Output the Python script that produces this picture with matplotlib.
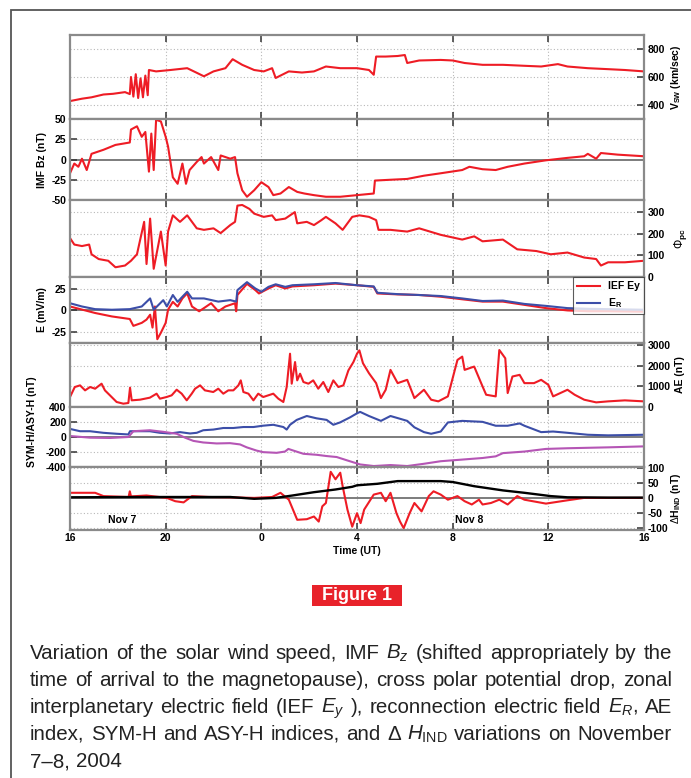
import matplotlib
matplotlib.use('Agg')
import matplotlib.pyplot as plt
from matplotlib import font_manager
from matplotlib.patches import Rectangle

# hours after 16 UT on Nov 7
vsw_t = [0, 0.5, 0.9, 1.4, 1.8, 2.3, 2.5, 2.55, 2.65, 2.75, 2.85, 2.95, 3.05, 3.15, 3.25, 3.3, 3.6, 4.2,
         4.9, 5.3, 5.6, 6.0, 6.5, 6.8, 7.2, 7.7, 8.1, 8.45, 8.6, 9.15, 9.7, 10.2, 10.7, 11.3, 12.0,
         12.5, 12.7, 12.8, 13.2, 13.7, 14.0, 14.1, 14.6, 15.5, 16.0, 16.5, 17.25, 18.1, 19.0, 19.7,
         20.4, 20.8, 21.65, 22.5, 23.2, 24]
vsw = [428, 445, 455, 475, 480, 492, 478, 600, 460, 620, 450, 590, 455, 610, 470, 650, 640, 650,
       663, 630, 605, 640, 663, 727, 687, 650, 640, 663, 593, 640, 632, 640, 675, 663, 663,
       650, 616, 746, 746, 750, 757, 700, 718, 722, 718, 700, 687, 687, 680, 675,
       692, 675, 663, 656, 650, 640]

bz_t = [0, 0.18, 0.35, 0.5, 0.7, 0.9, 1.4, 1.9, 2.5, 2.55, 2.8, 3.0, 3.15, 3.3, 3.4, 3.5, 3.6, 3.8, 4.0,
        4.1, 4.3, 4.5, 4.7, 4.85, 5.0, 5.3, 5.5, 5.6, 5.9, 6.2, 6.3, 6.7, 6.9, 7.0, 7.2, 7.4, 7.7, 8.0,
        8.3, 8.5, 8.8, 9.15, 9.5, 9.8, 10.2, 10.7, 11.3, 12.0, 12.7, 12.75, 13.4, 14.1, 14.8, 15.5,
        16.4, 16.7, 17.25, 17.8, 18.3, 19.0, 19.9, 20.8, 21.5, 21.65, 22.0, 22.2, 22.9, 24]
bz = [-17, -5, -9, 1, -13, 7, 12, 18, 21, 37, 41, 28, 34, -15, 32, -13, 49, 47, 28,
      16, -22, -30, -5, -30, -13, -3, 3, -5, 3, -13, 5, 1, 3, -17, -38, -46, -38, -28,
      -34, -44, -42, -34, -40, -42, -44, -46, -46, -44, -42, -26, -25, -24, -20, -17,
      -13, -9, -12, -13, -9, -5, -1, 2, 4, 7, 1, 8, 6, 4]

phi_t = [0, 0.18, 0.5, 0.8, 0.9, 1.2, 1.6, 1.9, 2.3, 2.55, 2.8, 3.1, 3.2, 3.35, 3.5, 3.8, 4.0, 4.1, 4.3,
         4.6, 4.9, 5.3, 5.6, 6.0, 6.3, 6.7, 6.9, 7.0, 7.2, 7.5, 7.7, 8.1, 8.45, 8.6, 9.0, 9.4, 9.5,
         9.9, 10.2, 10.5, 10.7, 11.1, 11.4, 11.8, 12.1, 12.5, 12.8, 12.9, 13.4, 14.1, 14.6, 15.5,
         16.4, 16.9, 17.25, 18.1, 18.7, 19.5, 20.1, 20.8, 21.5, 22.0, 22.2, 22.5, 23.2, 24]
phi = [180, 150, 143, 150, 105, 83, 75, 45, 53, 75, 105, 255, 60, 270, 38, 210, 53, 210, 285,
       255, 285, 225, 218, 225, 203, 240, 255, 330, 333, 315, 293, 278, 285, 263, 270, 300, 248,
       255, 240, 262, 278, 248, 218, 278, 285, 278, 263, 218, 218, 210, 225, 195,
       173, 188, 165, 173, 128, 120, 105, 113, 90, 83, 53, 68, 68, 75]

ey_t = [0, 0.5, 1.05, 1.75, 2.5, 2.65, 3.0, 3.2, 3.35, 3.45, 3.55, 3.65, 3.8, 4.0, 4.1, 4.3, 4.5, 4.7,
        4.9, 5.1, 5.4, 5.6, 5.9, 6.2, 6.5, 6.9, 6.95, 7.0, 7.4, 7.75, 7.9, 8.3, 8.6, 9.0, 9.3, 10.2,
        11.1, 12.0, 12.7, 12.85, 13.7, 14.6, 15.5, 16.4, 17.25, 18.1, 19.0, 19.9, 20.8, 21.65, 22.5, 24]
ey = [4.6, 1, -3, -7, -10, -18, -14.5, -10.7, -5, -20, 4.6, -33.6, -26, -14.5, 0.8, 10, 4.6, 14,
      20, 4.6, -1, 2.7, 8.4, -1, 4.6, 8.4, -1, 18, 31, 23.7, 19.8, 25.6, 29.4, 25.6, 28, 29.4,
      31.3, 29.4, 27.5, 19.8, 18.7, 18, 16, 13, 10.3, 10.3, 6.5, 2.7, 0, -1, -1, -1.5]

er_t = [0, 0.5, 1.05, 1.75, 2.5, 3.0, 3.35, 3.5, 3.9, 4.05, 4.3, 4.5, 4.7, 4.9, 5.1, 5.6, 6.2, 6.7,
        6.95, 7.0, 7.4, 7.75, 8.0, 8.3, 8.6, 9.0, 9.3, 10.2, 11.1, 12.0, 12.7, 12.85, 13.7, 14.6,
        15.5, 16.4, 17.25, 18.1, 19.0, 19.9, 20.8, 21.65, 22.5, 24]
er = [8.4, 4.6, 1.5, 0.8, 1.5, 4.6, 14, 0.8, 12, 4.6, 18, 10, 16, 21.8, 14, 14, 10.3, 12,
      10.3, 23.7, 33, 25.6, 21.8, 27.5, 30.5, 27.5, 29.4, 30.5, 32, 29.4, 28, 20.6, 19, 18,
      16.8, 14, 11, 11.5, 7.6, 5.3, 2.7, 1.9, 1.5, 0.8]

ae_t = [0, 0.2, 0.42, 0.63, 0.84, 1.05, 1.32, 1.46, 1.67, 1.95, 2.23, 2.44, 2.51, 2.58, 2.93, 3.34,
        3.62, 3.76, 4.04, 4.25, 4.46, 4.67, 4.88, 5.09, 5.23, 5.44, 5.64, 5.99, 6.2, 6.41, 6.62, 6.83,
        7.04, 7.14, 7.25, 7.46, 7.67, 7.87, 8.08, 8.29, 8.5, 8.71, 8.92, 9.06, 9.2, 9.27, 9.41, 9.5,
        9.62, 9.76, 9.97, 10.17, 10.38, 10.59, 10.8, 11.01, 11.22, 11.43, 11.64, 11.85, 12.0, 12.1,
        12.25, 12.5, 12.8, 13.0, 13.2, 13.4, 13.7, 14.1, 14.4, 14.8, 15.1, 15.4, 15.8, 16.2, 16.4,
        16.5, 16.9, 17.25, 17.4, 17.8, 17.95, 18.2, 18.3, 18.5, 18.8, 19.0, 19.4, 19.7, 20.0, 20.2,
        20.8, 21.1, 21.5, 22.0, 22.5, 23.2, 24]
ae = [484, 968, 1048, 806, 968, 887, 1129, 806, 565, 242, 161, 194, 935, 323, 355, 452,
      645, 403, 484, 565, 839, 645, 323, 645, 887, 1048, 806, 726, 887, 645, 806, 806,
      1048, 1290, 726, 645, 323, 645, 484, 565, 645, 403, 242, 968, 2581, 1129, 2177, 1290,
      1613, 1210, 1129, 1290, 887, 1210, 726, 1290, 968, 1048, 1774, 2177, 2581, 2742,
      2119, 1637, 1156, 433, 835, 1798, 1156, 1316, 433, 835, 353, 273, 514, 2279, 2440,
      1798, 1958, 995, 594, 514, 2760, 2360, 674, 1477, 1557, 1156, 1156, 1316, 1075, 514,
      835, 594, 353, 224, 273, 321, 273]

asy_t = [0, 0.42, 0.84, 1.39, 1.95, 2.44, 2.51, 2.79, 3.34, 3.76, 4.18, 4.6, 5.02, 5.3, 5.57, 5.99,
         6.41, 6.83, 7.25, 7.67, 8.08, 8.5, 8.92, 9.06, 9.2, 9.48, 9.9, 10.31, 10.73, 11.01, 11.29,
         11.71, 11.99, 12.13, 12.5, 13.0, 13.4, 14.1, 14.4, 14.8, 15.1, 15.5, 15.8, 16.4, 17.25,
         17.8, 18.3, 18.8, 19.0, 19.7, 20.2, 20.8, 21.65, 22.5, 24]
asy = [108, 77, 77, 56, 43, 34, 77, 77, 77, 56, 47, 65, 47, 56, 90, 99,
       120, 120, 133, 133, 151, 163, 133, 99, 163, 228, 280, 249, 228, 163, 194,
       262, 314, 335, 280, 215, 280, 215, 129, 65, 43, 73, 194, 215, 202,
       150, 150, 181, 150, 65, 73, 56, 30, 22, 30]

sym_t = [0, 0.84, 1.67, 2.44, 2.65, 3.34, 3.9, 4.46, 4.81, 5.16, 5.57, 6.13, 6.69, 7.11, 7.39, 7.8,
         8.08, 8.64, 8.99, 9.13, 9.34, 9.76, 10.31, 10.73, 11.15, 11.57, 12.13, 12.7, 13.4, 14.1,
         14.8, 15.5, 16.4, 17.25, 17.8, 18.1, 19.0, 19.9, 20.8, 22.5, 24]
sym = [13, -9, -13, 0, 77, 90, 69, 43, -9, -52, -73, -86, -82, -99, -138, -181,
       -202, -211, -194, -159, -181, -224, -237, -254, -267, -310, -366, -387, -374, -387,
       -357, -323, -301, -280, -258, -215, -194, -159, -150, -138, -125]

dh_t = [0, 3.2, 4.9, 6.7, 7.7, 8.6, 9.3, 10.2, 11.1, 11.8, 12.0, 12.85, 13.7, 14.6, 15.5, 16.0,
        16.9, 18.1, 19.0, 20.1, 20.8, 22.5, 24]
dh = [2, 3, 3, 3, -3, 0, 8, 19, 28, 37, 42, 47, 56, 56, 56, 53,
      39, 25, 17, 6, 2, 1, 1]

hloc_t = [0, 1.05, 1.4, 2.45, 2.5, 2.55, 3.2, 4.05, 4.4, 4.75, 5.1, 5.8, 6.7, 7.7, 8.45, 8.8, 9.15,
          9.5, 9.9, 10.2, 10.4, 10.55, 10.7, 10.9, 11.1, 11.3, 11.4, 11.6, 11.8, 12.0, 12.15, 12.3,
          12.7, 13.0, 13.2, 13.4, 13.65, 13.8, 13.95, 14.2, 14.4, 14.7, 15.0, 15.2, 15.5, 15.8, 16.2,
          16.5, 16.8, 17.1, 17.25, 17.6, 17.95, 18.3, 18.7, 19.0, 19.9, 20.8, 21.5, 22.5, 24]
hloc = [17, 17, 6, 3, 22, 5, 8, 0, -11, -15, 6, 3, 2, 0, 3, 17, -6,
        -73, -71, -62, -79, -28, -17, 87, 62, 84, 39, -39, -96, -51, -84, -39,
        11, 17, -11, 17, -51, -79, -101, -51, -17, -45, 6, 22, 11, -6, 6,
        -11, -22, -6, -22, -17, -6, -22, 6, -6, -19, -8, 0, 0, 0]

hour_ticks = [0, 4, 8, 12, 16, 20, 24]
hour_labels = ['16', '20', '0', '4', '8', '12', '16']

caption = [
    ['Variation', 'of', 'the', 'solar', 'wind', 'speed,', 'IMF', r'$B_z$', '(shifted', 'appropriately', 'by', 'the'],
    ['time', 'of', 'arrival', 'to', 'the', 'magnetopause),', 'cross', 'polar', 'potential', 'drop,', 'zonal'],
    ['interplanetary', 'electric', 'field', '(IEF', r'$E_y$', '),', 'reconnection', 'electric', 'field', r'$E_R$,', 'AE'],
    ['index,', 'SYM-H', 'and', 'ASY-H', 'indices,', 'and', '\u0394', r'$H_{\mathrm{IND}}$', 'variations', 'on', 'November'],
    ['7\u20138,', '2004'],
]

installed = {f.name for f in font_manager.fontManager.ttflist}
narrow = 'Liberation Sans Narrow' if 'Liberation Sans Narrow' in installed else 'Liberation Sans'
plt.rcParams['font.family'] = [narrow, 'DejaVu Sans']
plt.rcParams['axes.unicode_minus'] = False
plt.rcParams['mathtext.fontset'] = 'custom'
plt.rcParams['mathtext.rm'] = narrow
plt.rcParams['mathtext.it'] = narrow + ':italic'
plt.rcParams['mathtext.bf'] = narrow + ':bold'

RED = '#ee1c25'
BLUE = '#3c4ea8'
MAG = '#b555b5'

W, H = 691, 778
fig = plt.figure(figsize=(W / 100, H / 100), dpi=100)

# outer frame of the figure box
fig.patches.append(Rectangle((11 / W, -0.01), 1.0, 1 - 10 / H + 0.01, transform=fig.transFigure,
                             fill=False, edgecolor='#555555', lw=1.3))


def panel(top, bottom, ylim, yticks, side, zero=False):
    ax = fig.add_axes([70 / W, 1 - bottom / H, 574 / W, (bottom - top) / H])
    ax.set_xlim(0, 24)
    ax.set_ylim(*ylim)
    ax.set_xticks(hour_ticks)
    ax.set_xticklabels([])
    ax.set_yticks(yticks)
    for v in yticks:
        if zero and v == 0:
            ax.axhline(0, color='#666666', lw=1.2, zorder=1)
        else:
            ax.axhline(v, color='#b8b8b8', ls=(0, (1, 2)), lw=0.8, zorder=0)
    for h in hour_ticks[1:-1]:
        ax.axvline(h, color='#b8b8b8', ls=(0, (1, 2)), lw=0.8, zorder=0)
    for s in ax.spines.values():
        s.set_color('#8a8a8a')
        s.set_linewidth(1.6)
    ax.tick_params(direction='in', top=True, bottom=True, length=5, width=1.1, color='#333333',
                   labelsize=7.5, pad=2.5)
    if side == 'right':
        ax.yaxis.tick_right()
        ax.tick_params(axis='y', left=False, right=True)
    else:
        ax.tick_params(axis='y', left=True, right=False)
    for lab in ax.get_yticklabels():
        lab.set_fontweight('bold')
    return ax


lw = 1.5
lab_fs = 7.5

ax1 = panel(35, 119, (300, 900), [400, 600, 800], 'right')
ax1.plot(vsw_t, vsw, color=RED, lw=lw)
ax1.set_ylabel(r'V$_{\mathbf{SW}}$ (km/sec)', fontweight='bold', fontsize=lab_fs, labelpad=3)
ax1.yaxis.set_label_position('right')

ax2 = panel(119, 200, (-50, 50), [-50, -25, 0, 25, 50], 'left', zero=True)
ax2.plot(bz_t, bz, color=RED, lw=lw)
ax2.set_ylabel('IMF Bz (nT)', fontweight='bold', fontsize=lab_fs, labelpad=3)

ax3 = panel(200, 277, (0, 356), [0, 100, 200, 300], 'right')
ax3.plot(phi_t, phi, color=RED, lw=lw)
ax3.set_ylabel(r'$\Phi_{\mathbf{pc}}$', fontweight='bold', fontsize=8.5, labelpad=5)
ax3.yaxis.set_label_position('right')

ax4 = panel(277, 343, (-38, 39), [-25, 0, 25], 'left', zero=True)
ax4.plot(ey_t, ey, color=RED, lw=lw, label='IEF Ey')
ax4.plot(er_t, er, color=BLUE, lw=lw, label=r'E$_\mathbf{R}$')
ax4.set_ylabel('E (mV/m)', fontweight='bold', fontsize=lab_fs, labelpad=3)
leg = ax4.legend(loc='upper right', frameon=True, fancybox=False,
                 borderaxespad=0.0, handlelength=2.2, labelspacing=0.5,
                 prop={'weight': 'bold', 'size': 7.5})
leg.get_frame().set_edgecolor('#333333')
leg.get_frame().set_linewidth(0.8)

ax5 = panel(343, 407, (0, 3100), [0, 1000, 2000, 3000], 'right')
ax5.plot(ae_t, ae, color=RED, lw=lw)
ax5.set_ylabel('AE (nT)', fontweight='bold', fontsize=lab_fs, labelpad=3)
ax5.yaxis.set_label_position('right')

ax6 = panel(407, 467, (-400, 400), [-400, -200, 0, 200, 400], 'left', zero=True)
ax6.plot(asy_t, asy, color=BLUE, lw=lw)
ax6.plot(sym_t, sym, color=MAG, lw=lw)
ax6.set_ylabel('SYM-H/ASY-H (nT)', fontweight='bold', fontsize=lab_fs, labelpad=3)
ax6.yaxis.set_label_coords(-0.058, 0.75)

ax7 = panel(467, 530, (-107, 103), [-100, -50, 0, 50, 100], 'right', zero=True)
ax7.plot(hloc_t, hloc, color=RED, lw=lw)
ax7.plot(dh_t, dh, color='black', lw=lw + 0.2)
ax7.set_ylabel(r'$\Delta$H$_{\mathbf{IND}}$ (nT)', fontweight='bold', fontsize=lab_fs, labelpad=1)
ax7.yaxis.set_label_position('right')
ax7.set_xticklabels(hour_labels, fontweight='bold', fontsize=7.5)
ax7.set_xlabel('Time (UT)', fontweight='bold', fontsize=lab_fs, labelpad=2)
ax7.text(2.2, -73, 'Nov 7', fontweight='bold', fontsize=7.5, ha='center', va='center')
ax7.text(16.7, -75, 'Nov 8', fontweight='bold', fontsize=7.5, ha='center', va='center')

# "Figure 1" tag
fig.patches.append(Rectangle((312 / W, 1 - 606 / H), 90 / W, 21 / H, transform=fig.transFigure,
                             facecolor='#e8222a', edgecolor='none'))
fig.text(357 / W, 1 - 595.5 / H, 'Figure 1', color='white', fontweight='bold', fontsize=13,
         ha='center', va='center')

# justified caption; font size chosen so the widest line just fills the column
x0, x1 = 30, 672
baselines = [659, 686, 713, 740, 767]
fig.canvas.draw()
renderer = fig.canvas.get_renderer()
fs = 14.0
space = 0.28
rows = []
for words, yb in zip(caption, baselines):
    rows.append([fig.text(0, 1 - yb / H, w, fontsize=fs, va='baseline', ha='left', color='#222222')
                 for w in words])
natural = []
for texts in rows[:-1]:
    ws = sum(t.get_window_extent(renderer).width for t in texts)
    natural.append(ws + (len(texts) - 1) * space * fs * 100 / 72)
fs = fs * (x1 - x0) / max(natural) * 0.995
for texts in rows:
    for t in texts:
        t.set_fontsize(fs)
for i, texts in enumerate(rows):
    widths = [t.get_window_extent(renderer).width for t in texts]
    if i < len(rows) - 1:
        gap = (x1 - x0 - sum(widths)) / (len(texts) - 1)
    else:
        gap = space * fs * 100 / 72
    x = x0
    for t, w in zip(texts, widths):
        t.set_x(x / W)
        x += w + gap

fig.savefig('out.png', dpi=100)
